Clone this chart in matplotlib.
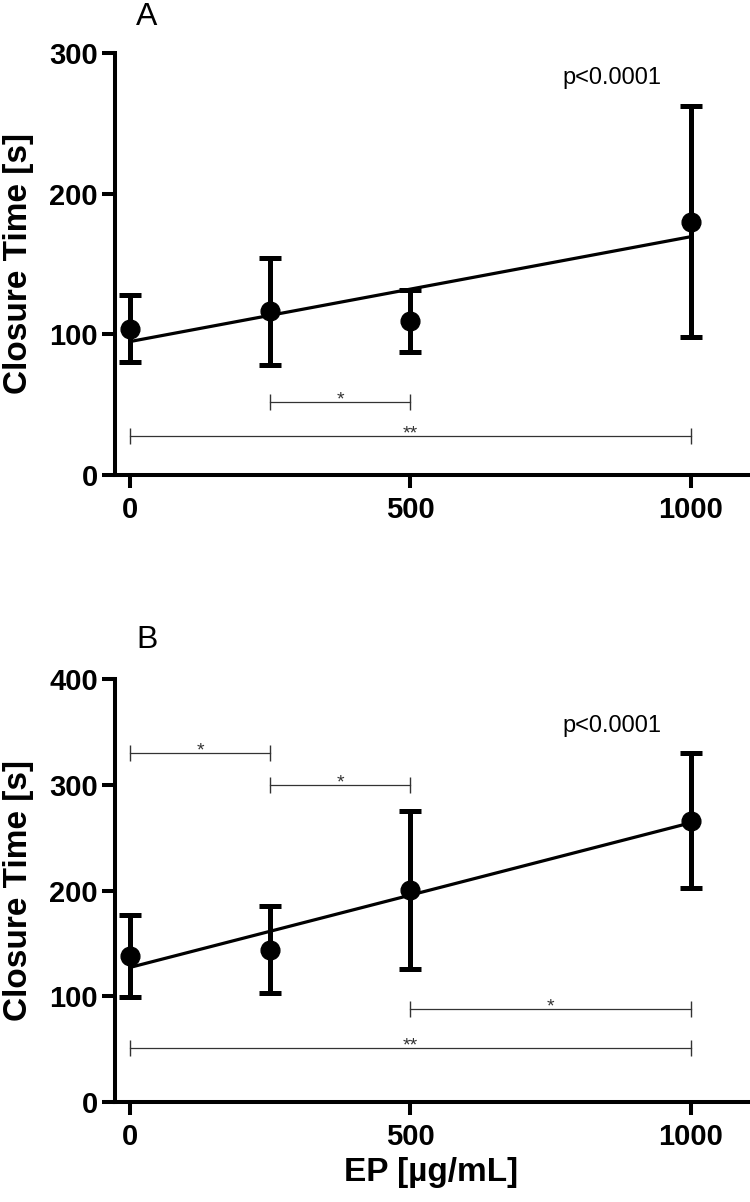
import numpy as np
import matplotlib
import matplotlib.pyplot as plt
matplotlib.use('Agg')

plt.rcParams['font.family'] = ['Liberation Sans', 'DejaVu Sans']

# EP concentration [ug/mL]
doses = [0, 250, 500, 1000]

# panel A: closure time mean and error
a_mean = [104, 116.5, 109.5, 180]
a_err = [24, 38, 22, 82]
# panel B
b_mean = [138, 144, 200.5, 266]
b_err = [39, 41, 74.5, 64]

# significance brackets: (start, end, height, stars, star position)
a_brackets = [(250, 500, 52, '*', 375),
              (0, 1000, 28, '**', 500)]
b_brackets = [(0, 250, 330, '*', 125),
              (250, 500, 300, '*', 375),
              (500, 1000, 88, '*', 750),
              (0, 1000, 51.5, '**', 500)]

a_yticks = [0, 100, 200, 300]
b_yticks = [0, 100, 200, 300, 400]
x_ticks = [0, 500, 1000]
p_text = 'p<0.0001'


def draw_panel(ax, mean, err, brackets, yticks, letter, p_y, letter_y):
    """
    Draws one closure time panel: mean +/- error points, linear fit line,
    significance brackets and p value.
    """
    fig = ax.figure
    slope, intercept = np.polyfit(doses, mean, 1)
    fit_x = np.array([doses[0], doses[-1]])
    ax.plot(fit_x, intercept + slope * fit_x, color='black', lw=2.3, zorder=3)
    ax.errorbar(doses, mean, yerr=err, fmt='o', color='black', ms=13.5,
                elinewidth=3.6, capsize=8, capthick=3.6, zorder=4, clip_on=False)

    for x1, x2, y, stars, sx in brackets:
        ax.plot([x1, x2], [y, y], color='#333333', lw=0.9, marker='|',
                ms=12, mew=1.0, zorder=2)
        ax.annotate(stars, (sx, y), xytext=(0, -2), textcoords='offset points',
                    ha='center', va='baseline', fontsize=14, color='#333333')

    ax.text(860, p_y, p_text, ha='center', va='center', fontsize=17)

    ax.set_xlim(-27, 1102)
    ax.set_ylim(yticks[0], yticks[-1])
    ax.set_xticks(x_ticks)
    ax.set_yticks(yticks)
    for side in ['top', 'right']:
        ax.spines[side].set_visible(False)
    for side in ['left', 'bottom']:
        ax.spines[side].set_linewidth(2.9)
    ax.tick_params(direction='out', length=9.4, width=2.9, labelsize=21)
    ax.tick_params(axis='x', pad=6)
    ax.tick_params(axis='y', pad=3)
    for lab in ax.get_xticklabels() + ax.get_yticklabels():
        lab.set_fontweight('bold')
    ax.set_ylabel('Closure Time [s]', fontsize=24, fontweight='bold')
    pos = ax.get_position()
    ax.yaxis.set_label_coords(34 / 750, pos.y0 + pos.height / 2, transform=fig.transFigure)
    fig.text(147 / 750, 1 - letter_y / 1202, letter, fontsize=23, ha='center', va='center')


if __name__ == '__main__':
    fig = plt.figure(figsize=(7.5, 12.02), dpi=100)
    ax_a = fig.add_axes([115 / 750, 1 - 475 / 1202, 633 / 750, 422 / 1202])
    ax_b = fig.add_axes([115 / 750, 1 - 1102 / 1202, 633 / 750, 423 / 1202])

    draw_panel(ax_a, a_mean, a_err, a_brackets, a_yticks, 'A', 282, 17)
    draw_panel(ax_b, b_mean, b_err, b_brackets, b_yticks, 'B', 356, 640)

    ax_b.set_xlabel('EP [µg/mL]', fontsize=24, fontweight='bold', labelpad=4)
    fig.savefig('out.png', dpi=100)
